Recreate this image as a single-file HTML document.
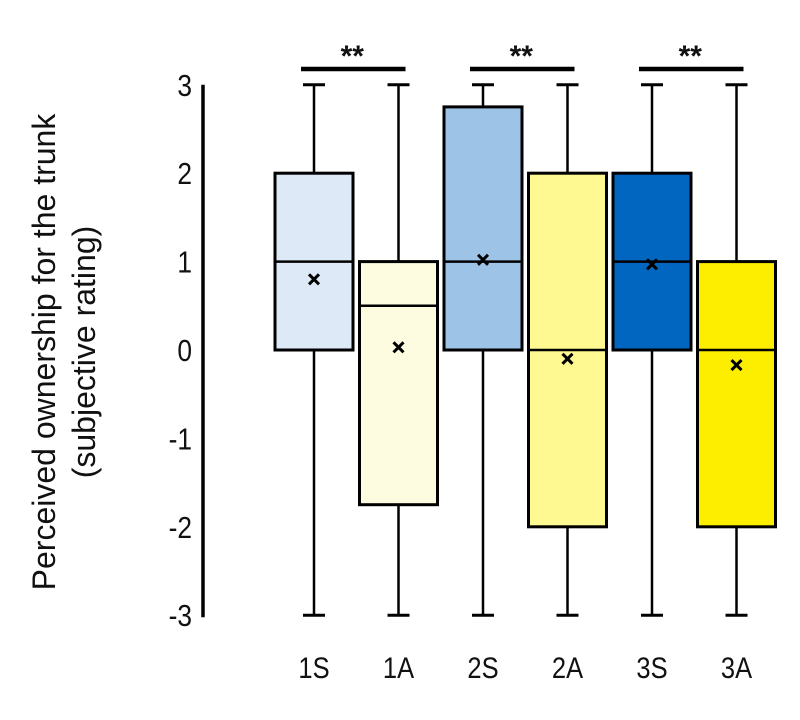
<!DOCTYPE html>
<html><head><meta charset="utf-8"><style>
body{margin:0;background:#fff}
svg text{font-family:"Liberation Sans",Arial,sans-serif;fill:#111}
</style></head><body>
<svg width="800" height="715">
<g id="g"></g>
</svg>
<script>
const categories=["1S","1A","2S","2A","3S","3A"];
const mins=[-3,-3,-3,-3,-3,-3];
const q1s=[0,-1.75,0,-2,0,-2];
const medians=[1,0.5,1,0,1,0];
const q3s=[2,1,2.75,2,2,1];
const maxs=[3,3,3,3,3,3];
const means=[0.8,0.03,1.02,-0.1,0.97,-0.17];
const colors=["#dde9f6","#fdfbe0","#9dc3e6","#fef990","#0066bf","#fdee00"];
const yTicks=[3,2,1,0,-1,-2,-3];
const sigPairs=[[0,1],[2,3],[4,5]];
const sigLabels=["**","**","**"];

const y=v=>350-v*88.4;
const x=i=>314+i*84.5;
const NS="http://www.w3.org/2000/svg";
const g=document.getElementById('g');
function mk(t,a,txt){const e=document.createElementNS(NS,t);for(const k in a)e.setAttribute(k,a[k]);if(txt!=null)e.textContent=txt;g.appendChild(e);return e;}

let ax=mk('line',{x1:203,x2:203,y1:y(3),y2:y(-3)+2,stroke:'#000','stroke-width':3.5});


yTicks.forEach(t=>{
 const e=mk('text',{x:192/0.85,y:y(t)+11,'text-anchor':'end','font-size':31,transform:'scale(0.85,1)'},String(t));
 
 
});
const tt=mk('text',{'text-anchor':'middle','font-size':32},null);


tt.setAttribute('transform','translate(55,352) rotate(-90)');
const t1=document.createElementNS(NS,'tspan');t1.setAttribute('x',0);t1.setAttribute('y',0);t1.textContent='Perceived ownership for the trunk';tt.appendChild(t1);
const t2=document.createElementNS(NS,'tspan');t2.setAttribute('x',0);t2.setAttribute('y',40);t2.textContent='(subjective rating)';tt.appendChild(t2);

const bw=78;
categories.forEach((c,i)=>{
 const cx=x(i);
 const w=mk('line',{x1:cx,x2:cx,y1:y(maxs[i]),y2:y(mins[i]),stroke:'#000','stroke-width':2.5});
 
 
 [maxs[i],mins[i]].forEach(v=>{
  const cp=mk('line',{x1:cx-11,x2:cx+11,y1:y(v),y2:y(v),stroke:'#000','stroke-width':3});
  
  
 });
 const b=mk('rect',{x:cx-bw/2,y:y(q3s[i]),width:bw,height:y(q1s[i])-y(q3s[i]),fill:colors[i],stroke:'#000','stroke-width':3});
 
 
 const m=mk('line',{x1:cx-bw/2,x2:cx+bw/2,y1:y(medians[i]),y2:y(medians[i]),stroke:'#000','stroke-width':2.5});
 
 
 const my=y(means[i]);
 const mp=mk('path',{d:`M${cx-5},${my-5}L${cx+5},${my+5}M${cx+5},${my-5}L${cx-5},${my+5}`,stroke:'#000','stroke-width':3});
 
 
 const l=mk('text',{x:cx/0.85,y:678,'text-anchor':'middle','font-size':30,transform:'scale(0.85,1)'},c);
 
 
});
sigPairs.forEach((p,k)=>{
 const s=mk('line',{x1:x(p[0])-13,x2:x(p[1])+7,y1:69,y2:69,stroke:'#000','stroke-width':4.5});
 
 
 const st=mk('text',{x:(x(p[0])+x(p[1]))/2-4,y:66,'text-anchor':'middle','font-size':30,'font-weight':'bold'},sigLabels[k]);
 
 
});
</script>
</body></html>
